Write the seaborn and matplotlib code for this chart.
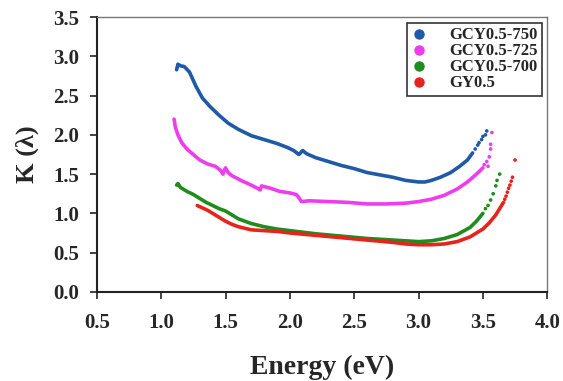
import numpy as np
import pandas as pd
import seaborn as sns
import matplotlib.pyplot as plt
from matplotlib.lines import Line2D

# Curves (Energy eV, K)
e_750 = [1.12, 1.13, 1.15, 1.18, 1.22, 1.27, 1.32, 1.38, 1.45, 1.52, 1.6, 1.7, 1.8, 1.9, 1.98, 2.03, 2.07,
         2.1, 2.13, 2.2, 2.3, 2.4, 2.5, 2.6, 2.7, 2.8, 2.9, 3.0, 3.05, 3.1, 3.17, 3.25, 3.32, 3.38, 3.42]
k_750 = [2.83, 2.9, 2.88, 2.87, 2.8, 2.62, 2.47, 2.36, 2.25, 2.15, 2.07, 1.99, 1.94, 1.89, 1.84, 1.8, 1.75,
         1.8, 1.76, 1.71, 1.66, 1.61, 1.57, 1.52, 1.49, 1.46, 1.42, 1.4, 1.4, 1.42, 1.46, 1.52, 1.6, 1.68, 1.77]
e_750_tail = [3.44, 3.46, 3.47, 3.49, 3.5, 3.52, 3.53]
k_750_tail = [1.82, 1.87, 1.9, 1.94, 1.98, 2.0, 2.05]

e_725 = [1.1, 1.11, 1.13, 1.16, 1.2, 1.25, 1.3, 1.36, 1.42, 1.46, 1.48, 1.49, 1.5, 1.52, 1.55, 1.62, 1.7,
         1.77, 1.78, 1.85, 1.92, 2.0, 2.05, 2.07, 2.09, 2.15, 2.3, 2.45, 2.6, 2.75, 2.9, 3.0, 3.1, 3.2, 3.3,
         3.38, 3.45, 3.5]
k_725 = [2.2, 2.1, 2.0, 1.9, 1.82, 1.75, 1.68, 1.63, 1.6, 1.55, 1.5, 1.55, 1.58, 1.52, 1.48, 1.42, 1.36,
         1.3, 1.35, 1.32, 1.28, 1.26, 1.24, 1.2, 1.15, 1.16, 1.15, 1.14, 1.12, 1.12, 1.13, 1.15, 1.18, 1.23,
         1.31, 1.4, 1.5, 1.58]
e_725_tail = [3.51, 3.53, 3.54, 3.55, 3.56, 3.56, 3.57]
k_725_tail = [1.62, 1.66, 1.6, 1.72, 1.82, 1.88, 2.03]

e_700 = [1.12, 1.13, 1.15, 1.2, 1.25, 1.3, 1.35, 1.4, 1.45, 1.5, 1.55, 1.6, 1.7, 1.8, 1.9, 2.0, 2.2, 2.4,
         2.6, 2.8, 3.0, 3.1, 3.2, 3.3, 3.4, 3.45, 3.5]
k_700 = [1.36, 1.38, 1.33, 1.28, 1.24, 1.19, 1.14, 1.1, 1.06, 1.03, 0.98, 0.93, 0.87, 0.83, 0.8, 0.78, 0.74,
         0.71, 0.68, 0.66, 0.64, 0.65, 0.68, 0.73, 0.82, 0.9, 1.0]
e_700_tail = [3.52, 3.54, 3.56, 3.58, 3.6, 3.61, 3.63]
k_700_tail = [1.06, 1.1, 1.17, 1.25, 1.35, 1.42, 1.5]

e_gy = [1.28, 1.32, 1.36, 1.4, 1.45, 1.5, 1.55, 1.6, 1.7, 1.8, 1.9, 2.0, 2.2, 2.4, 2.6, 2.8, 2.9, 3.0, 3.1,
        3.2, 3.3, 3.4, 3.5, 3.55, 3.6, 3.63, 3.66]
k_gy = [1.1, 1.07, 1.04, 1.0, 0.95, 0.9, 0.86, 0.83, 0.79, 0.78, 0.77, 0.75, 0.72, 0.69, 0.66, 0.63, 0.61,
        0.6, 0.6, 0.61, 0.64, 0.7, 0.8, 0.88, 0.98, 1.06, 1.14]
e_gy_tail = [3.67, 3.68, 3.69, 3.7, 3.71, 3.72, 3.73, 3.75]
k_gy_tail = [1.18, 1.22, 1.27, 1.32, 1.36, 1.41, 1.46, 1.68]

labels = ["GCY0.5-750", "GCY0.5-725", "GCY0.5-700", "GY0.5"]
colors = ["#1f5aa6", "#ee3cee", "#1e8c1e", "#e8231c"]
x_ticks = [0.5, 1.0, 1.5, 2.0, 2.5, 3.0, 3.5, 4.0]
y_ticks = [0.0, 0.5, 1.0, 1.5, 2.0, 2.5, 3.0, 3.5]

series = [(e_750, k_750, e_750_tail, k_750_tail), (e_725, k_725, e_725_tail, k_725_tail),
          (e_700, k_700, e_700_tail, k_700_tail), (e_gy, k_gy, e_gy_tail, k_gy_tail)]

main = pd.concat([pd.DataFrame({"E": s[0], "K": s[1], "sample": lab}) for s, lab in zip(series, labels)])
tails = pd.concat([pd.DataFrame({"E": s[2], "K": s[3], "sample": lab}) for s, lab in zip(series, labels)])

sns.set_style("white")
plt.rcParams['font.family'] = ['Liberation Serif', 'DejaVu Serif']
plt.rcParams['font.weight'] = 'bold'

fig = plt.figure(figsize=(5.63, 3.81), dpi=100)
ax = fig.add_axes([0.172, 0.234, 0.8, 0.721])
pal = dict(zip(labels, colors))

sns.lineplot(data=main, x="E", y="K", hue="sample", palette=pal, sort=False,
             linewidth=2.6, legend=False, ax=ax)
sns.scatterplot(data=tails, x="E", y="K", hue="sample", palette=pal, s=7,
                edgecolor="none", legend=False, ax=ax)

ax.set_xlim(0.5, 4.0)
ax.set_ylim(0.0, 3.5)
ax.set_xticks(x_ticks)
ax.set_yticks(y_ticks)
ax.set_xticklabels([f"{t:.1f}" for t in x_ticks], fontsize=15, fontweight='bold')
ax.set_yticklabels([f"{t:.1f}" for t in y_ticks], fontsize=15, fontweight='bold')
ax.tick_params(axis='both', direction='out', length=5, width=1.2, color='#222222')
ax.tick_params(axis='x', bottom=True, pad=10)
ax.tick_params(axis='y', left=True, pad=8)
ax.set_xlabel("Energy (eV)", fontsize=20, fontweight='bold', labelpad=16)
ax.set_ylabel("K (λ)", fontsize=19, fontweight='bold', labelpad=10)

for side in ['left', 'bottom']:
    ax.spines[side].set_color('#222222')
    ax.spines[side].set_linewidth(1.5)
for side in ['top', 'right']:
    ax.spines[side].set_color('#777777')
    ax.spines[side].set_linewidth(1.0)

handles = [Line2D([0], [0], marker='o', linestyle='none', markersize=6.5,
                  markerfacecolor=c, markeredgecolor=c) for c in colors]
leg = ax.legend(handles, labels, loc='upper right', bbox_to_anchor=(0.988, 0.978),
                fontsize=12, frameon=True, fancybox=False, labelspacing=0.0,
                handletextpad=1.3, handlelength=1.0, borderpad=0.25, borderaxespad=0)
leg.get_frame().set_edgecolor('black')
leg.get_frame().set_linewidth(1.2)
for t in leg.get_texts():
    t.set_fontweight('bold')

fig.savefig("out.png", dpi=100)
